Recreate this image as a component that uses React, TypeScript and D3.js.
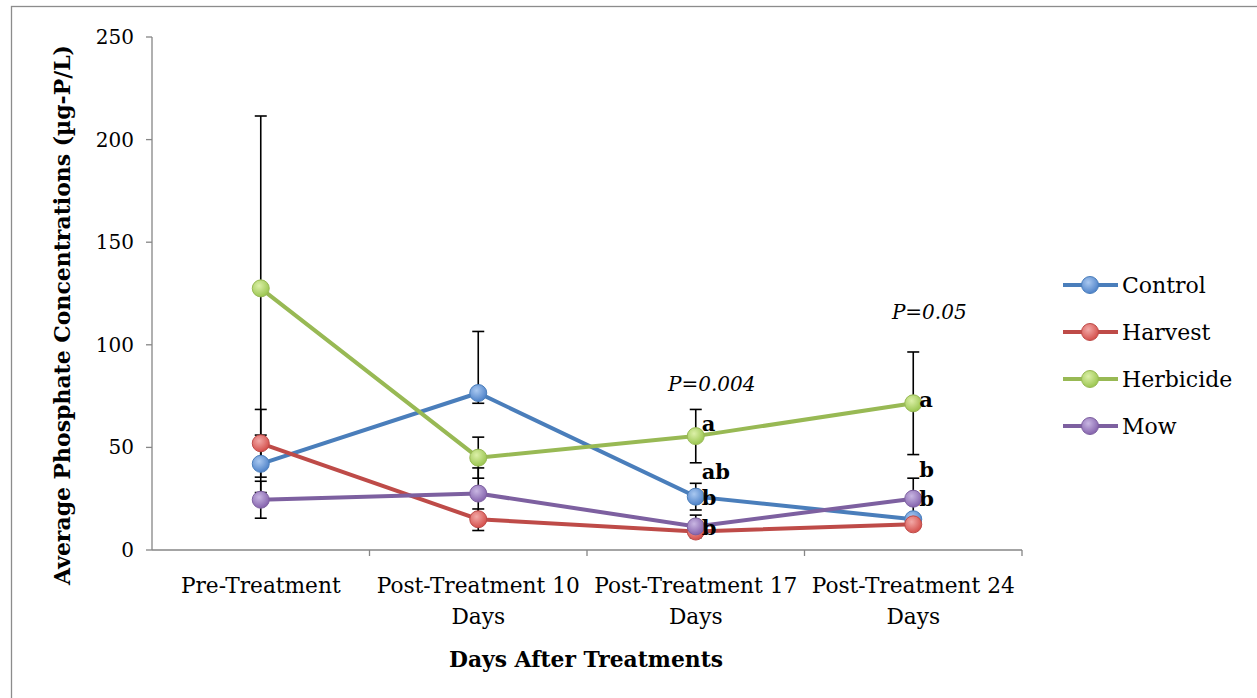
import * as d3 from "d3";

const categories = [
  ["Pre-Treatment"],
  ["Post-Treatment 10", "Days"],
  ["Post-Treatment 17", "Days"],
  ["Post-Treatment 24", "Days"],
];
const seriesNames = ["Control", "Harvest", "Herbicide", "Mow"];
const lineColors = ["#4a7ebb", "#be4b48", "#98b954", "#7d60a0"];
const dotLight = ["#a9c8f0", "#f2a9a7", "#dcf0a8", "#c8b6e2"];
const dotDark = ["#4f83c9", "#d4504c", "#9bc651", "#8563ad"];

const control = [42, 76.5, 26, 15];
const harvest = [52, 15, 9, 12.5];
const herbicide = [127.5, 45, 55.5, 71.5];
const mow = [24.5, 27.5, 11.5, 25];

// error bar extents (plus / minus)
const errPlus = [
  [14, 30, 6.5, 0],
  [16.5, 5, 0, 0],
  [84, 10, 13, 25],
  [9, 12.5, 5.5, 10],
];
const errMinus = [
  [14, 5, 6.5, 0],
  [16.5, 5.5, 0, 0],
  [84, 10, 13, 25],
  [9, 12.5, 5.5, 10],
];

const yTicks = [0, 50, 100, 150, 200, 250];

const letters = [
  { cat: 2, value: 55.5, text: "a", dy: -12 },
  { cat: 2, value: 32, text: "ab", dy: -13 },
  { cat: 2, value: 26, text: "b", dy: 1 },
  { cat: 2, value: 11.5, text: "b", dy: 1 },
  { cat: 3, value: 71.5, text: "a", dy: -4 },
  { cat: 3, value: 34.6, text: "b", dy: -9 },
  { cat: 3, value: 25, text: "b", dy: 0 },
];
const pLabels = [
  { cat: 2, value: 81, text: "P=0.004" },
  { cat: 3, value: 116, text: "P=0.05" },
];

const W = 1257;
const H = 698;
const left = 152;
const right = 1022;
const top = 37;
const bottom = 550;
const font = "'DejaVu Serif', serif";

export default function App() {
  const data = [control, harvest, herbicide, mow];
  const x = d3
    .scaleBand<number>()
    .domain(d3.range(categories.length))
    .range([left, right])
    .padding(0);
  const y = d3.scaleLinear().domain([0, 250]).range([bottom, top]);
  const cx = (i: number) => (x(i) as number) + x.bandwidth() / 2;
  const line = d3
    .line<number>()
    .x((_, i) => cx(i))
    .y((d) => y(d));

  const bounds = d3.range(categories.length + 1).map((i) => left + i * x.bandwidth());

  return (
    <svg
      width={W}
      height={H}
      style={{ position: "absolute", left: 0, top: 0, background: "#fff" }}
      fontFamily={font}
    >
      <defs>
        {seriesNames.map((s, i) => (
          <radialGradient key={s} id={`g${i}`} cx="40%" cy="35%" r="65%">
            <stop offset="0%" stopColor={dotLight[i]} />
            <stop offset="100%" stopColor={dotDark[i]} />
          </radialGradient>
        ))}
      </defs>
      <rect x={11.5} y={6.5} width={1400} height={800} fill="none" stroke="#8c8c8c" strokeWidth={1.3} />

      {/* axes */}
      <line x1={left} x2={left} y1={top} y2={bottom} stroke="#868686" strokeWidth={1.3} />
      <line x1={left} x2={right} y1={bottom} y2={bottom} stroke="#868686" strokeWidth={1.3} />
      {yTicks.map((t) => (
        <g key={t}>
          <line x1={left - 6} x2={left} y1={y(t)} y2={y(t)} stroke="#868686" strokeWidth={1.3} />
          <text x={134} y={y(t)} dy="0.35em" textAnchor="end" fontSize={20} fill="#000">
            {t}
          </text>
        </g>
      ))}
      {bounds.slice(1).map((b) => (
        <line key={b} x1={b} x2={b} y1={bottom} y2={bottom + 6} stroke="#868686" strokeWidth={1.3} />
      ))}
      {categories.map((c, i) => (
        <text key={i} x={cx(i)} y={593} textAnchor="middle" fontSize={21.7} fill="#000">
          {c.map((l, j) => (
            <tspan key={j} x={cx(i)} dy={j === 0 ? 0 : 31}>
              {l}
            </tspan>
          ))}
        </text>
      ))}
      <text
        x={586}
        y={667}
        textAnchor="middle"
        fontSize={22}
        fontWeight="bold"
        textLength={274}
        lengthAdjust="spacingAndGlyphs"
      >
        Days After Treatments
      </text>
      <text
        transform="translate(70,315) rotate(-90)"
        textAnchor="middle"
        fontSize={22}
        fontWeight="bold"
        textLength={540}
        lengthAdjust="spacingAndGlyphs"
      >
        Average Phosphate Concentrations (µg-P/L)
      </text>

      {/* lines */}
      {data.map((d, si) => (
        <path key={si} d={line(d) || ""} fill="none" stroke={lineColors[si]} strokeWidth={4} />
      ))}
      {/* error bars */}
      {data.map((d, si) =>
        d.map((v, i) => {
          const hi = v + errPlus[si][i];
          const lo = v - errMinus[si][i];
          const px = cx(i);
          return (
            <g key={`${si}-${i}`} stroke="#000" strokeWidth={1.6}>
              {errPlus[si][i] > 0 && (
                <>
                  <line x1={px} x2={px} y1={y(v)} y2={y(hi)} />
                  <line x1={px - 6} x2={px + 6} y1={y(hi)} y2={y(hi)} />
                </>
              )}
              {errMinus[si][i] > 0 && (
                <>
                  <line x1={px} x2={px} y1={y(v)} y2={y(lo)} />
                  <line x1={px - 6} x2={px + 6} y1={y(lo)} y2={y(lo)} />
                </>
              )}
            </g>
          );
        })
      )}
      {/* markers */}
      {data.map((d, si) =>
        d.map((v, i) => (
          <circle
            key={`m${si}-${i}`}
            cx={cx(i)}
            cy={y(v)}
            r={8.5}
            fill={`url(#g${si})`}
            stroke={lineColors[si]}
            strokeWidth={1}
          />
        ))
      )}

      {/* significance letters */}
      {letters.map((l, i) => (
        <text
          key={i}
          x={cx(l.cat) + 6}
          y={y(l.value) + l.dy}
          dy="0.35em"
          fontSize={21}
          fontWeight="bold"
          fill="#000"
        >
          {l.text}
        </text>
      ))}
      {pLabels.map((p, i) => (
        <text
          key={i}
          x={cx(p.cat) + 16}
          y={y(p.value)}
          dy="0.35em"
          textAnchor="middle"
          fontSize={20}
          fontStyle="italic"
          fill="#000"
        >
          {p.text}
        </text>
      ))}

      {/* legend */}
      {seriesNames.map((s, i) => {
        const ly = 285 + i * 47;
        return (
          <g key={s}>
            <line x1={1063} x2={1118} y1={ly} y2={ly} stroke={lineColors[i]} strokeWidth={4} />
            <circle cx={1090} cy={ly} r={8.5} fill={`url(#g${i})`} stroke={lineColors[i]} strokeWidth={1} />
            <text x={1122} y={ly} dy="0.35em" fontSize={22} fill="#000">
              {s}
            </text>
          </g>
        );
      })}
    </svg>
  );
}
